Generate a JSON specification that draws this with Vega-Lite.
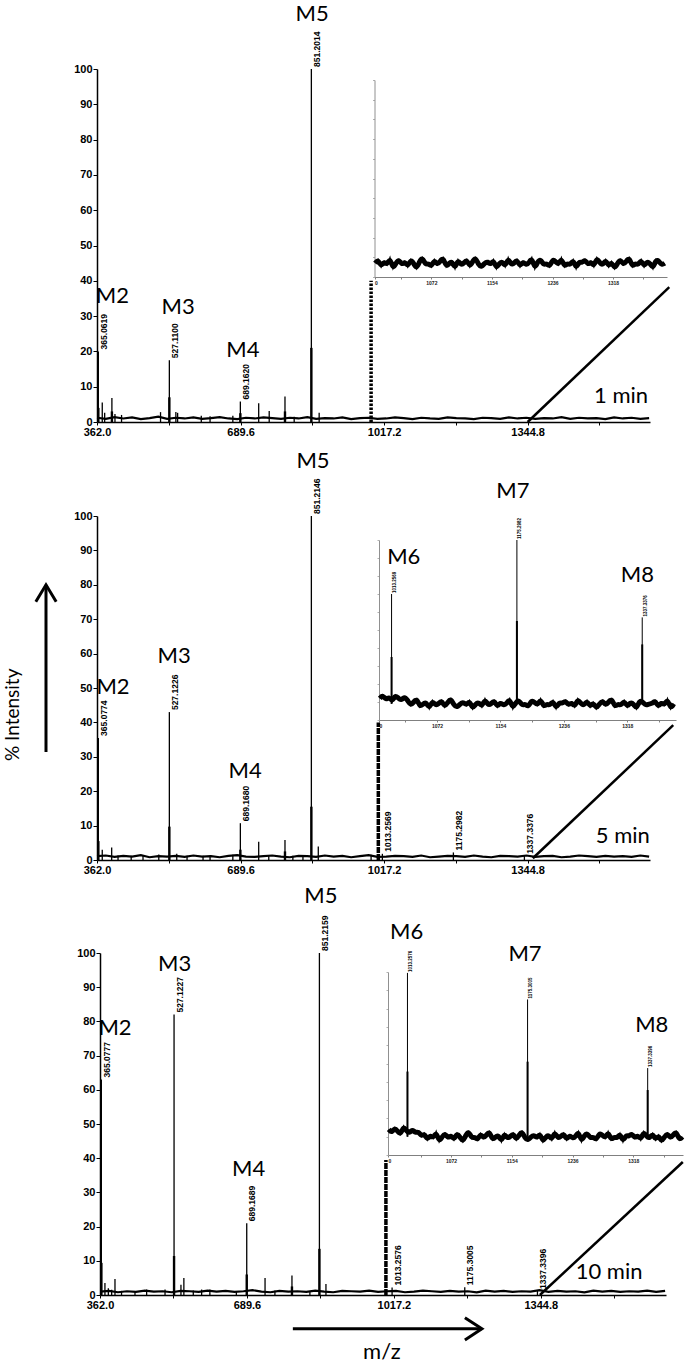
{
"$schema":"https://vega.github.io/schema/vega-lite/v6.json",
"width":693,"height":1364,"autosize":"none","padding":0,"background":"white",
"config":{"view":{"stroke":null},"axis":{"grid":false,"domainColor":"black","tickColor":"black","labelColor":"black","labelFont":"Liberation Sans","labelFontWeight":"bold","labelFontSize":11},"text":{"color":"black"}},
"datasets":{
"p1base":[{"x":362,"y":1.2},{"x":382,"y":0.9},{"x":402,"y":1.4},{"x":422,"y":1.0},{"x":442,"y":1.3},{"x":462,"y":0.8},{"x":482,"y":1.1},{"x":502,"y":1.5},{"x":522,"y":0.9},{"x":542,"y":1.2},{"x":562,"y":1.0},{"x":582,"y":1.3},{"x":602,"y":0.9},{"x":622,"y":1.1},{"x":642,"y":1.4},{"x":662,"y":1.0},{"x":682,"y":0.8},{"x":702,"y":1.2},{"x":722,"y":1.0},{"x":742,"y":1.3},{"x":762,"y":1.1},{"x":782,"y":0.9},{"x":802,"y":1.2},{"x":822,"y":1.0},{"x":842,"y":1.4},{"x":862,"y":0.9},{"x":882,"y":1.1},{"x":902,"y":1.0},{"x":922,"y":1.3},{"x":942,"y":0.8},{"x":962,"y":1.1},{"x":982,"y":1.2},{"x":1002,"y":0.9},{"x":1022,"y":1.0},{"x":1042,"y":1.3},{"x":1062,"y":1.1},{"x":1082,"y":0.8},{"x":1102,"y":1.2},{"x":1122,"y":1.0},{"x":1142,"y":0.9},{"x":1162,"y":1.3},{"x":1182,"y":1.1},{"x":1202,"y":1.0},{"x":1222,"y":0.8},{"x":1242,"y":1.2},{"x":1262,"y":1.1},{"x":1282,"y":0.9},{"x":1302,"y":1.3},{"x":1322,"y":1.0},{"x":1342,"y":1.2},{"x":1362,"y":0.9},{"x":1382,"y":1.1},{"x":1402,"y":1.0},{"x":1422,"y":1.4},{"x":1442,"y":0.9},{"x":1462,"y":1.2},{"x":1482,"y":1.0},{"x":1502,"y":1.1},{"x":1522,"y":0.8},{"x":1542,"y":1.3},{"x":1562,"y":1.0},{"x":1582,"y":1.2},{"x":1602,"y":0.9},{"x":1622,"y":1.1}],
"p2base":[{"x":362,"y":1.1},{"x":382,"y":1.3},{"x":402,"y":0.9},{"x":422,"y":1.2},{"x":442,"y":1.0},{"x":462,"y":1.4},{"x":482,"y":0.8},{"x":502,"y":1.1},{"x":522,"y":1.0},{"x":542,"y":1.2},{"x":562,"y":0.9},{"x":582,"y":1.3},{"x":602,"y":1.0},{"x":622,"y":1.1},{"x":642,"y":0.8},{"x":662,"y":1.2},{"x":682,"y":1.4},{"x":702,"y":1.0},{"x":722,"y":0.9},{"x":742,"y":1.1},{"x":762,"y":1.3},{"x":782,"y":1.0},{"x":802,"y":0.8},{"x":822,"y":1.2},{"x":842,"y":1.1},{"x":862,"y":0.9},{"x":882,"y":1.3},{"x":902,"y":1.0},{"x":922,"y":1.2},{"x":942,"y":0.8},{"x":962,"y":1.1},{"x":982,"y":1.4},{"x":1002,"y":0.9},{"x":1022,"y":1.0},{"x":1042,"y":1.2},{"x":1062,"y":1.1},{"x":1082,"y":0.9},{"x":1102,"y":1.3},{"x":1122,"y":0.8},{"x":1142,"y":1.0},{"x":1162,"y":1.2},{"x":1182,"y":1.1},{"x":1202,"y":0.9},{"x":1222,"y":1.3},{"x":1242,"y":1.0},{"x":1262,"y":0.8},{"x":1282,"y":1.2},{"x":1302,"y":1.1},{"x":1322,"y":1.0},{"x":1342,"y":1.3},{"x":1362,"y":0.9},{"x":1382,"y":1.1},{"x":1402,"y":1.2},{"x":1422,"y":0.8},{"x":1442,"y":1.0},{"x":1462,"y":1.3},{"x":1482,"y":1.1},{"x":1502,"y":0.9},{"x":1522,"y":1.2},{"x":1542,"y":1.0},{"x":1562,"y":1.1},{"x":1582,"y":0.9},{"x":1602,"y":1.3},{"x":1622,"y":1.0}],
"p3base":[{"x":362,"y":1.0},{"x":382,"y":1.2},{"x":402,"y":0.8},{"x":422,"y":1.1},{"x":442,"y":0.9},{"x":462,"y":1.3},{"x":482,"y":1.0},{"x":502,"y":1.1},{"x":522,"y":0.8},{"x":542,"y":1.2},{"x":562,"y":1.1},{"x":582,"y":0.9},{"x":602,"y":1.3},{"x":622,"y":1.0},{"x":642,"y":1.2},{"x":662,"y":0.9},{"x":682,"y":1.1},{"x":702,"y":1.4},{"x":722,"y":1.0},{"x":742,"y":0.8},{"x":762,"y":1.2},{"x":782,"y":1.0},{"x":802,"y":1.1},{"x":822,"y":0.9},{"x":842,"y":1.3},{"x":862,"y":1.0},{"x":882,"y":0.8},{"x":902,"y":1.2},{"x":922,"y":1.1},{"x":942,"y":1.0},{"x":962,"y":1.3},{"x":982,"y":0.9},{"x":1002,"y":1.1},{"x":1022,"y":1.2},{"x":1042,"y":0.8},{"x":1062,"y":1.0},{"x":1082,"y":1.3},{"x":1102,"y":1.1},{"x":1122,"y":0.9},{"x":1142,"y":1.2},{"x":1162,"y":1.0},{"x":1182,"y":1.1},{"x":1202,"y":0.8},{"x":1222,"y":1.3},{"x":1242,"y":1.0},{"x":1262,"y":1.2},{"x":1282,"y":0.9},{"x":1302,"y":1.1},{"x":1322,"y":1.0},{"x":1342,"y":1.4},{"x":1362,"y":0.9},{"x":1382,"y":1.2},{"x":1402,"y":1.0},{"x":1422,"y":1.1},{"x":1442,"y":0.8},{"x":1462,"y":1.3},{"x":1482,"y":1.0},{"x":1502,"y":1.2},{"x":1522,"y":0.9},{"x":1542,"y":1.1},{"x":1562,"y":1.0},{"x":1582,"y":1.3},{"x":1602,"y":0.9},{"x":1622,"y":1.2}],
"p1peaks":[{"x":365.06,"y":20,"c":4,"t":"365.0619"},{"x":374,"y":5.5},{"x":379.5,"y":2.6},{"x":396,"y":6.8,"c":3},{"x":403,"y":2.3},{"x":418,"y":2},{"x":507,"y":2.8},{"x":527.11,"y":17.5,"c":7,"t":"527.1100"},{"x":542,"y":2.8},{"x":546,"y":2.6},{"x":600,"y":1.8},{"x":620,"y":1.6},{"x":672,"y":1.8},{"x":689.16,"y":5.8,"c":2.5,"t":"689.1620"},{"x":731,"y":5.3},{"x":755,"y":3.1},{"x":791,"y":7.2,"c":3},{"x":812,"y":1.5},{"x":851.2,"y":100,"c":21,"t":"851.2014"},{"x":869,"y":2.6}],
"p2peaks":[{"x":365.08,"y":35.5,"c":5.5,"t":"365.0774"},{"x":374,"y":3},{"x":395.5,"y":3.6},{"x":410,"y":1.3},{"x":440,"y":1.2},{"x":467,"y":1.4},{"x":503,"y":1.6},{"x":527.12,"y":43,"c":9.7,"t":"527.1226"},{"x":544,"y":1.8},{"x":567.5,"y":1.2},{"x":604,"y":1.2},{"x":620,"y":1.2},{"x":672,"y":1.5},{"x":689.17,"y":10.7,"c":3,"t":"689.1680"},{"x":731,"y":5.3},{"x":754,"y":1.4},{"x":791,"y":5.8,"c":2.5},{"x":809,"y":1.2},{"x":832,"y":1.2},{"x":851.21,"y":100,"c":15.5,"t":"851.2146"},{"x":867,"y":3.9},{"x":987.5,"y":1.5},{"x":1013.26,"y":1.8,"t":"1013.2569"},{"x":1175.3,"y":2.2,"t":"1175.2982"},{"x":1337.34,"y":1.2,"t":"1337.3376"}],
"p3peaks":[{"x":365.08,"y":63,"c":9.4,"t":"365.0777"},{"x":373,"y":3.5},{"x":380.6,"y":2},{"x":388,"y":1.5},{"x":395.4,"y":4.7},{"x":410,"y":1.2},{"x":440,"y":1.2},{"x":466,"y":1.6},{"x":507,"y":1.6},{"x":527.12,"y":82,"c":11.4,"t":"527.1227"},{"x":542.5,"y":3},{"x":549,"y":5},{"x":570,"y":1.3},{"x":588.6,"y":1.6},{"x":607,"y":1.6},{"x":666,"y":1.2},{"x":689.17,"y":21,"c":6,"t":"689.1689"},{"x":730,"y":5},{"x":752,"y":1.3},{"x":790,"y":5.7,"c":2.5},{"x":830,"y":1.2},{"x":851.22,"y":100,"c":13.5,"t":"851.2159"},{"x":865.8,"y":3.2},{"x":1013.26,"y":2.2,"t":"1013.2576"},{"x":1175.3,"y":2.3,"t":"1175.3005"},{"x":1337.34,"y":1.2,"t":"1337.3396"}],
"p1m":[{"x":397,"y":35.7,"t":"M2"},{"x":547,"y":32.6,"t":"M3"},{"x":695,"y":20.5,"t":"M4"},{"x":853,"y":115.6,"t":"M5"},{"x":1558,"y":7.4,"t":"1 min"}],
"p2m":[{"x":398.5,"y":50.4,"t":"M2"},{"x":538,"y":59.2,"t":"M3"},{"x":700,"y":26,"t":"M4"},{"x":855,"y":116,"t":"M5"},{"x":1562,"y":7,"t":"5 min"}],
"p3m":[{"x":395.4,"y":78.1,"t":"M2"},{"x":528.5,"y":96.8,"t":"M3"},{"x":693.4,"y":36.8,"t":"M4"},{"x":854.6,"y":116.7,"t":"M5"},{"x":1497,"y":6.7,"t":"10 min"}],
"i2m":[{"x":1029,"y":90.3,"t":"M6"},{"x":1170,"y":127,"t":"M7"},{"x":1331,"y":80.3,"t":"M8"}],
"i3m":[{"x":1012.2,"y":121.6,"t":"M6"},{"x":1171.8,"y":109.8,"t":"M7"},{"x":1342.8,"y":71,"t":"M8"}],
"i2peaks":[{"x":1013.26,"y":70,"c":35,"t":"1013.2569"},{"x":1175.3,"y":100,"c":55,"t":"1175.2982"},{"x":1337.34,"y":57,"c":42,"t":"1337.3376"}],
"i3peaks":[{"x":1013.26,"y":99.5,"c":45.6,"t":"1013.2576"},{"x":1175.3,"y":85,"c":51,"t":"1175.3005"},{"x":1337.34,"y":47.5,"c":35.5,"t":"1337.3396"}],
"i1noise":[{"x":996,"y":7},{"x":1000,"y":9},{"x":1004,"y":5},{"x":1008,"y":8},{"x":1012,"y":6},{"x":1016,"y":10},{"x":1020,"y":4},{"x":1024,"y":7},{"x":1028,"y":9},{"x":1032,"y":6},{"x":1036,"y":8},{"x":1040,"y":5},{"x":1044,"y":9},{"x":1048,"y":7},{"x":1052,"y":4},{"x":1056,"y":8},{"x":1060,"y":10},{"x":1064,"y":6},{"x":1068,"y":7},{"x":1072,"y":5},{"x":1076,"y":9},{"x":1080,"y":6},{"x":1084,"y":8},{"x":1088,"y":10},{"x":1092,"y":5},{"x":1096,"y":7},{"x":1100,"y":8},{"x":1104,"y":4},{"x":1108,"y":9},{"x":1112,"y":6},{"x":1116,"y":7},{"x":1120,"y":9},{"x":1124,"y":5},{"x":1128,"y":8},{"x":1132,"y":10},{"x":1136,"y":6},{"x":1140,"y":5},{"x":1144,"y":7},{"x":1148,"y":8},{"x":1152,"y":6},{"x":1156,"y":9},{"x":1160,"y":4},{"x":1164,"y":7},{"x":1168,"y":8},{"x":1172,"y":5},{"x":1176,"y":10},{"x":1180,"y":6},{"x":1184,"y":7},{"x":1188,"y":9},{"x":1192,"y":5},{"x":1196,"y":8},{"x":1200,"y":6},{"x":1204,"y":7},{"x":1208,"y":10},{"x":1212,"y":4},{"x":1216,"y":8},{"x":1220,"y":9},{"x":1224,"y":6},{"x":1228,"y":7},{"x":1232,"y":5},{"x":1236,"y":9},{"x":1240,"y":8},{"x":1244,"y":6},{"x":1248,"y":10},{"x":1252,"y":5},{"x":1256,"y":7},{"x":1260,"y":6},{"x":1264,"y":9},{"x":1268,"y":4},{"x":1272,"y":8},{"x":1276,"y":7},{"x":1280,"y":9},{"x":1284,"y":6},{"x":1288,"y":8},{"x":1292,"y":5},{"x":1296,"y":10},{"x":1300,"y":7},{"x":1304,"y":6},{"x":1308,"y":9},{"x":1312,"y":5},{"x":1316,"y":8},{"x":1320,"y":4},{"x":1324,"y":7},{"x":1328,"y":9},{"x":1332,"y":6},{"x":1336,"y":8},{"x":1340,"y":10},{"x":1344,"y":5},{"x":1348,"y":7},{"x":1352,"y":6},{"x":1356,"y":9},{"x":1360,"y":5},{"x":1364,"y":8},{"x":1368,"y":7},{"x":1372,"y":4},{"x":1376,"y":9},{"x":1380,"y":8},{"x":1384,"y":6},{"x":1388,"y":7}],
"i2noise":[{"x":998,"y":12},{"x":1002,"y":14},{"x":1006,"y":11},{"x":1010,"y":13},{"x":1014,"y":10},{"x":1018,"y":14},{"x":1022,"y":12},{"x":1026,"y":11},{"x":1030,"y":13},{"x":1034,"y":11},{"x":1038,"y":8},{"x":1042,"y":10},{"x":1046,"y":12},{"x":1050,"y":7},{"x":1054,"y":9},{"x":1058,"y":10},{"x":1062,"y":6},{"x":1066,"y":11},{"x":1070,"y":8},{"x":1074,"y":9},{"x":1078,"y":11},{"x":1082,"y":7},{"x":1086,"y":10},{"x":1090,"y":12},{"x":1094,"y":8},{"x":1098,"y":7},{"x":1102,"y":9},{"x":1106,"y":10},{"x":1110,"y":8},{"x":1114,"y":11},{"x":1118,"y":6},{"x":1122,"y":9},{"x":1126,"y":10},{"x":1130,"y":7},{"x":1134,"y":12},{"x":1138,"y":8},{"x":1142,"y":9},{"x":1146,"y":11},{"x":1150,"y":7},{"x":1154,"y":10},{"x":1158,"y":8},{"x":1162,"y":9},{"x":1166,"y":12},{"x":1170,"y":6},{"x":1174,"y":10},{"x":1178,"y":11},{"x":1182,"y":8},{"x":1186,"y":9},{"x":1190,"y":7},{"x":1194,"y":11},{"x":1198,"y":10},{"x":1202,"y":8},{"x":1206,"y":12},{"x":1210,"y":7},{"x":1214,"y":9},{"x":1218,"y":8},{"x":1222,"y":11},{"x":1226,"y":6},{"x":1230,"y":10},{"x":1234,"y":9},{"x":1238,"y":11},{"x":1242,"y":8},{"x":1246,"y":10},{"x":1250,"y":7},{"x":1254,"y":12},{"x":1258,"y":9},{"x":1262,"y":8},{"x":1266,"y":11},{"x":1270,"y":7},{"x":1274,"y":10},{"x":1278,"y":6},{"x":1282,"y":9},{"x":1286,"y":11},{"x":1290,"y":8},{"x":1294,"y":10},{"x":1298,"y":12},{"x":1302,"y":7},{"x":1306,"y":9},{"x":1310,"y":8},{"x":1314,"y":11},{"x":1318,"y":7},{"x":1322,"y":10},{"x":1326,"y":9},{"x":1330,"y":6},{"x":1334,"y":11},{"x":1338,"y":10},{"x":1342,"y":8},{"x":1346,"y":9},{"x":1350,"y":9},{"x":1354,"y":11},{"x":1358,"y":7},{"x":1362,"y":10},{"x":1366,"y":8},{"x":1370,"y":12},{"x":1374,"y":6},{"x":1378,"y":9}],
"i3noise":[{"x":988,"y":14},{"x":992,"y":12},{"x":996,"y":15},{"x":1000,"y":13},{"x":1004,"y":11},{"x":1008,"y":16},{"x":1012,"y":13},{"x":1016,"y":12},{"x":1020,"y":14},{"x":1024,"y":12},{"x":1028,"y":13},{"x":1032,"y":10},{"x":1036,"y":12},{"x":1040,"y":8},{"x":1044,"y":11},{"x":1048,"y":9},{"x":1052,"y":13},{"x":1056,"y":7},{"x":1060,"y":10},{"x":1064,"y":12},{"x":1068,"y":9},{"x":1072,"y":11},{"x":1076,"y":8},{"x":1080,"y":12},{"x":1084,"y":10},{"x":1088,"y":7},{"x":1092,"y":11},{"x":1096,"y":13},{"x":1100,"y":9},{"x":1104,"y":10},{"x":1108,"y":8},{"x":1112,"y":12},{"x":1116,"y":9},{"x":1120,"y":11},{"x":1124,"y":13},{"x":1128,"y":8},{"x":1132,"y":10},{"x":1136,"y":11},{"x":1140,"y":7},{"x":1144,"y":12},{"x":1148,"y":9},{"x":1152,"y":10},{"x":1156,"y":12},{"x":1160,"y":8},{"x":1164,"y":11},{"x":1168,"y":13},{"x":1172,"y":9},{"x":1176,"y":8},{"x":1180,"y":10},{"x":1184,"y":11},{"x":1188,"y":9},{"x":1192,"y":12},{"x":1196,"y":7},{"x":1200,"y":10},{"x":1204,"y":11},{"x":1208,"y":8},{"x":1212,"y":13},{"x":1216,"y":9},{"x":1220,"y":10},{"x":1224,"y":12},{"x":1228,"y":8},{"x":1232,"y":11},{"x":1236,"y":9},{"x":1240,"y":10},{"x":1244,"y":13},{"x":1248,"y":7},{"x":1252,"y":11},{"x":1256,"y":12},{"x":1260,"y":9},{"x":1264,"y":10},{"x":1268,"y":8},{"x":1272,"y":12},{"x":1276,"y":11},{"x":1280,"y":9},{"x":1284,"y":13},{"x":1288,"y":8},{"x":1292,"y":10},{"x":1296,"y":9},{"x":1300,"y":12},{"x":1304,"y":7},{"x":1308,"y":11},{"x":1312,"y":10},{"x":1316,"y":12},{"x":1320,"y":9},{"x":1324,"y":11},{"x":1328,"y":8},{"x":1332,"y":13},{"x":1336,"y":10},{"x":1340,"y":9},{"x":1344,"y":12},{"x":1348,"y":8},{"x":1352,"y":11},{"x":1356,"y":7},{"x":1360,"y":10},{"x":1364,"y":12},{"x":1368,"y":9},{"x":1372,"y":11},{"x":1376,"y":13},{"x":1380,"y":8},{"x":1384,"y":10}]
},
"resolve":{"scale":{"x":"independent","y":"independent"}},
"layer":[
{"layer":[
 {"encoding":{
   "x":{"field":"x","type":"quantitative","scale":{"domain":[362,1624],"range":[97,650],"nice":false,"zero":false},"axis":{"orient":"bottom","offset":-942,"values":[362,525.8,689.6,853.4,1017.2,1181,1344.8,1508.6],"labelExpr":"indexof([362,689.6,1017.2,1344.8],datum.value)>=0?format(datum.value,'.1f'):''","labelOverlap":false,"labelFlush":false,"tickSize":3,"labelPadding":1,"domainWidth":1.5,"title":null}},
   "y":{"field":"y","type":"quantitative","scale":{"domain":[0,100],"range":[422,69],"nice":false,"zero":false},"axis":{"orient":"left","offset":-97,"values":[0,10,20,30,40,50,60,70,80,90,100],"tickSize":4,"labelPadding":1,"labelFlush":false,"labelOverlap":false,"domainWidth":1.5,"title":null}}},
  "layer":[
  {"data":{"name":"p1base"},"mark":{"type":"line","color":"black","strokeWidth":2.2}},
  {"data":{"name":"p1peaks"},"mark":{"type":"rule","color":"black","strokeWidth":1.3},"encoding":{"y2":{"datum":0}}},
  {"data":{"name":"p1peaks"},"transform":[{"filter":"isValid(datum.c)"}],"mark":{"type":"rule","color":"black","strokeWidth":2.4},
   "encoding":{"y":{"field":"c","type":"quantitative","scale":{"domain":[0,100],"range":[422,69],"nice":false,"zero":false},"axis":{"orient":"left","offset":-97,"values":[0,10,20,30,40,50,60,70,80,90,100],"tickSize":4,"labelPadding":1,"labelFlush":false,"labelOverlap":false,"domainWidth":1.5,"title":null}},"y2":{"datum":0}}},
  {"data":{"name":"p1peaks"},"transform":[{"filter":"isValid(datum.t)"}],"mark":{"type":"text","angle":270,"align":"left","baseline":"top","dx":2,"dy":1.5,"font":"Liberation Sans","fontWeight":"bold","fontSize":8.5},"encoding":{"text":{"field":"t"}}},
  {"data":{"name":"p1m"},"mark":{"type":"text","font":"Lato","fontSize":22},"encoding":{"text":{"field":"t"}}}
 ]},
 {"data":{"values":[{}]},"mark":{"type":"rule","color":"black","strokeWidth":3.5,"strokeDash":[2.5,1.5]},
  "encoding":{"x":{"datum":987.5,"type":"quantitative","scale":{"domain":[362,1624],"range":[97,650],"nice":false,"zero":false},"axis":{"orient":"bottom","offset":-942,"values":[362,525.8,689.6,853.4,1017.2,1181,1344.8,1508.6],"labelExpr":"indexof([362,689.6,1017.2,1344.8],datum.value)>=0?format(datum.value,'.1f'):''","labelOverlap":false,"labelFlush":false,"tickSize":3,"labelPadding":1,"domainWidth":1.5,"title":null}},
   "y":{"datum":0,"type":"quantitative","scale":{"domain":[0,100],"range":[422,69],"nice":false,"zero":false},"axis":{"orient":"left","offset":-97,"values":[0,10,20,30,40,50,60,70,80,90,100],"tickSize":4,"labelPadding":1,"labelFlush":false,"labelOverlap":false,"domainWidth":1.5,"title":null}},"y2":{"datum":40}}},
 {"data":{"values":[{}]},"mark":{"type":"rule","color":"black","strokeWidth":2.5},
  "encoding":{"x":{"datum":1344.8,"type":"quantitative","scale":{"domain":[362,1624],"range":[97,650],"nice":false,"zero":false},"axis":{"orient":"bottom","offset":-942,"values":[362,525.8,689.6,853.4,1017.2,1181,1344.8,1508.6],"labelExpr":"indexof([362,689.6,1017.2,1344.8],datum.value)>=0?format(datum.value,'.1f'):''","labelOverlap":false,"labelFlush":false,"tickSize":3,"labelPadding":1,"domainWidth":1.5,"title":null}},"x2":{"datum":1668},
   "y":{"datum":0,"type":"quantitative","scale":{"domain":[0,100],"range":[422,69],"nice":false,"zero":false},"axis":{"orient":"left","offset":-97,"values":[0,10,20,30,40,50,60,70,80,90,100],"tickSize":4,"labelPadding":1,"labelFlush":false,"labelOverlap":false,"domainWidth":1.5,"title":null}},"y2":{"datum":38.2}}}
]},
{"encoding":{
  "x":{"field":"x","type":"quantitative","scale":{"domain":[995,1391],"range":[374.5,667],"nice":false,"zero":false},"axis":{"orient":"bottom","offset":-1087,"values":[995,1031,1072,1113,1154,1195,1236,1277,1318,1359],"format":"d","labelExpr":"datum.value<1000?'0':(indexof([1072,1154,1236,1318],datum.value)>=0?datum.label:'')","labelFlush":true,"labelOverlap":false,"labelFontSize":5,"tickSize":2,"labelPadding":1,"domainColor":"#808080","tickColor":"#808080","labelColor":"#222222","title":null}},
  "y":{"field":"y","type":"quantitative","scale":{"domain":[0,100],"range":[277,80],"nice":false,"zero":false},"axis":{"orient":"left","offset":-374.5,"values":[0,10,20,30,40,50,60,70,80,90,100],"labels":false,"tickSize":2,"domainColor":"#909090","tickColor":"#b0b0b0","title":null}}},
 "layer":[
 {"data":{"name":"i1noise"},"mark":{"type":"line","color":"black","strokeWidth":5,"interpolate":"basis"}},
 {"data":{"name":"i1noise"},"mark":{"type":"line","color":"black","strokeWidth":1.2}}
]},
{"layer":[
 {"encoding":{
   "x":{"field":"x","type":"quantitative","scale":{"domain":[362,1624],"range":[97,650],"nice":false,"zero":false},"axis":{"orient":"bottom","offset":-504,"values":[362,525.8,689.6,853.4,1017.2,1181,1344.8,1508.6],"labelExpr":"indexof([362,689.6,1017.2,1344.8],datum.value)>=0?format(datum.value,'.1f'):''","labelOverlap":false,"labelFlush":false,"tickSize":3,"labelPadding":1,"domainWidth":1.5,"title":null}},
   "y":{"field":"y","type":"quantitative","scale":{"domain":[0,100],"range":[860,516],"nice":false,"zero":false},"axis":{"orient":"left","offset":-97,"values":[0,10,20,30,40,50,60,70,80,90,100],"tickSize":4,"labelPadding":1,"labelFlush":false,"labelOverlap":false,"domainWidth":1.5,"title":null}}},
  "layer":[
  {"data":{"name":"p2base"},"mark":{"type":"line","color":"black","strokeWidth":2.2}},
  {"data":{"name":"p2peaks"},"mark":{"type":"rule","color":"black","strokeWidth":1.3},"encoding":{"y2":{"datum":0}}},
  {"data":{"name":"p2peaks"},"transform":[{"filter":"isValid(datum.c)"}],"mark":{"type":"rule","color":"black","strokeWidth":2.4},
   "encoding":{"y":{"field":"c","type":"quantitative","scale":{"domain":[0,100],"range":[860,516],"nice":false,"zero":false},"axis":{"orient":"left","offset":-97,"values":[0,10,20,30,40,50,60,70,80,90,100],"tickSize":4,"labelPadding":1,"labelFlush":false,"labelOverlap":false,"domainWidth":1.5,"title":null}},"y2":{"datum":0}}},
  {"data":{"name":"p2peaks"},"transform":[{"filter":"isValid(datum.t)"}],"mark":{"type":"text","angle":270,"align":"left","baseline":"top","dx":2,"dy":1.5,"font":"Liberation Sans","fontWeight":"bold","fontSize":8.5},"encoding":{"text":{"field":"t"}}},
  {"data":{"name":"p2m"},"mark":{"type":"text","font":"Lato","fontSize":22},"encoding":{"text":{"field":"t"}}}
 ]},
 {"data":{"values":[{}]},"mark":{"type":"rule","color":"black","strokeWidth":3.5,"strokeDash":[6,1]},
  "encoding":{"x":{"datum":1004,"type":"quantitative","scale":{"domain":[362,1624],"range":[97,650],"nice":false,"zero":false},"axis":{"orient":"bottom","offset":-504,"values":[362,525.8,689.6,853.4,1017.2,1181,1344.8,1508.6],"labelExpr":"indexof([362,689.6,1017.2,1344.8],datum.value)>=0?format(datum.value,'.1f'):''","labelOverlap":false,"labelFlush":false,"tickSize":3,"labelPadding":1,"domainWidth":1.5,"title":null}},
   "y":{"datum":0,"type":"quantitative","scale":{"domain":[0,100],"range":[860,516],"nice":false,"zero":false},"axis":{"orient":"left","offset":-97,"values":[0,10,20,30,40,50,60,70,80,90,100],"tickSize":4,"labelPadding":1,"labelFlush":false,"labelOverlap":false,"domainWidth":1.5,"title":null}},"y2":{"datum":40}}},
 {"data":{"values":[{}]},"mark":{"type":"rule","color":"black","strokeWidth":2.5},
  "encoding":{"x":{"datum":1356.7,"type":"quantitative","scale":{"domain":[362,1624],"range":[97,650],"nice":false,"zero":false},"axis":{"orient":"bottom","offset":-504,"values":[362,525.8,689.6,853.4,1017.2,1181,1344.8,1508.6],"labelExpr":"indexof([362,689.6,1017.2,1344.8],datum.value)>=0?format(datum.value,'.1f'):''","labelOverlap":false,"labelFlush":false,"tickSize":3,"labelPadding":1,"domainWidth":1.5,"title":null}},"x2":{"datum":1677},
   "y":{"datum":0.5,"type":"quantitative","scale":{"domain":[0,100],"range":[860,516],"nice":false,"zero":false},"axis":{"orient":"left","offset":-97,"values":[0,10,20,30,40,50,60,70,80,90,100],"tickSize":4,"labelPadding":1,"labelFlush":false,"labelOverlap":false,"domainWidth":1.5,"title":null}},"y2":{"datum":39.2}}},
 {"data":{"values":[{}]},"mark":{"type":"text","font":"Lato","fontSize":19,"angle":270},
  "encoding":{"x":{"datum":170,"type":"quantitative","scale":{"domain":[362,1624],"range":[97,650],"nice":false,"zero":false},"axis":{"orient":"bottom","offset":-504,"values":[362,525.8,689.6,853.4,1017.2,1181,1344.8,1508.6],"labelExpr":"indexof([362,689.6,1017.2,1344.8],datum.value)>=0?format(datum.value,'.1f'):''","labelOverlap":false,"labelFlush":false,"tickSize":3,"labelPadding":1,"domainWidth":1.5,"title":null}},
   "y":{"datum":42.2,"type":"quantitative","scale":{"domain":[0,100],"range":[860,516],"nice":false,"zero":false},"axis":{"orient":"left","offset":-97,"values":[0,10,20,30,40,50,60,70,80,90,100],"tickSize":4,"labelPadding":1,"labelFlush":false,"labelOverlap":false,"domainWidth":1.5,"title":null}},"text":{"value":"% Intensity"}}},
 {"data":{"values":[{}]},"mark":{"type":"rule","color":"black","strokeWidth":3},
  "encoding":{"x":{"datum":245.6,"type":"quantitative","scale":{"domain":[362,1624],"range":[97,650],"nice":false,"zero":false},"axis":{"orient":"bottom","offset":-504,"values":[362,525.8,689.6,853.4,1017.2,1181,1344.8,1508.6],"labelExpr":"indexof([362,689.6,1017.2,1344.8],datum.value)>=0?format(datum.value,'.1f'):''","labelOverlap":false,"labelFlush":false,"tickSize":3,"labelPadding":1,"domainWidth":1.5,"title":null}},
   "y":{"datum":31.4,"type":"quantitative","scale":{"domain":[0,100],"range":[860,516],"nice":false,"zero":false},"axis":{"orient":"left","offset":-97,"values":[0,10,20,30,40,50,60,70,80,90,100],"tickSize":4,"labelPadding":1,"labelFlush":false,"labelOverlap":false,"domainWidth":1.5,"title":null}},"y2":{"datum":80}}},
 {"data":{"values":[{}]},"mark":{"type":"point","shape":"M -0.6 1 L 0 0 L 0.6 1","size":1156,"filled":false,"stroke":"black","strokeWidth":3,"opacity":1,"strokeJoin":"miter"},
  "encoding":{"x":{"datum":245.6,"type":"quantitative","scale":{"domain":[362,1624],"range":[97,650],"nice":false,"zero":false},"axis":{"orient":"bottom","offset":-504,"values":[362,525.8,689.6,853.4,1017.2,1181,1344.8,1508.6],"labelExpr":"indexof([362,689.6,1017.2,1344.8],datum.value)>=0?format(datum.value,'.1f'):''","labelOverlap":false,"labelFlush":false,"tickSize":3,"labelPadding":1,"domainWidth":1.5,"title":null}},
   "y":{"datum":80,"type":"quantitative","scale":{"domain":[0,100],"range":[860,516],"nice":false,"zero":false},"axis":{"orient":"left","offset":-97,"values":[0,10,20,30,40,50,60,70,80,90,100],"tickSize":4,"labelPadding":1,"labelFlush":false,"labelOverlap":false,"domainWidth":1.5,"title":null}}}}
]},
{"encoding":{
  "x":{"field":"x","type":"quantitative","scale":{"domain":[997,1381],"range":[379,676],"nice":false,"zero":false},"axis":{"orient":"bottom","offset":-644,"values":[997,1031,1072,1113,1154,1195,1236,1277,1318,1359],"format":"d","labelExpr":"datum.value<1000?'0':(indexof([1072,1154,1236,1318],datum.value)>=0?datum.label:'')","labelFlush":true,"labelOverlap":false,"labelFontSize":5,"tickSize":2,"labelPadding":1,"domainColor":"#808080","tickColor":"#808080","labelColor":"#222222","title":null}},
  "y":{"field":"y","type":"quantitative","scale":{"domain":[0,100],"range":[720,540],"nice":false,"zero":false},"axis":{"orient":"left","offset":-379,"values":[0,10,20,30,40,50,60,70,80,90,100],"labels":false,"tickSize":2,"domainColor":"#909090","tickColor":"#b0b0b0","title":null}}},
 "layer":[
 {"data":{"name":"i2noise"},"mark":{"type":"line","color":"black","strokeWidth":5,"interpolate":"basis"}},
 {"data":{"name":"i2noise"},"mark":{"type":"line","color":"black","strokeWidth":1.2}},
 {"data":{"name":"i2peaks"},"mark":{"type":"rule","color":"black","strokeWidth":1},"encoding":{"y2":{"datum":9}}},
 {"data":{"name":"i2peaks"},"mark":{"type":"rule","color":"black","strokeWidth":2},
  "encoding":{"y":{"field":"c","type":"quantitative","scale":{"domain":[0,100],"range":[720,540],"nice":false,"zero":false},"axis":{"orient":"left","offset":-379,"values":[0,10,20,30,40,50,60,70,80,90,100],"labels":false,"tickSize":2,"domainColor":"#909090","tickColor":"#b0b0b0","title":null}},"y2":{"datum":9}}},
 {"data":{"name":"i2peaks"},"mark":{"type":"text","angle":270,"align":"left","baseline":"top","dx":1,"dy":0.5,"font":"Liberation Sans","fontWeight":"bold","fontSize":4.5},"encoding":{"text":{"field":"t"}}},
 {"data":{"name":"i2m"},"mark":{"type":"text","font":"Lato","fontSize":22},"encoding":{"text":{"field":"t"}}}
]},
{"layer":[
 {"encoding":{
   "x":{"field":"x","type":"quantitative","scale":{"domain":[362,1624],"range":[100,666],"nice":false,"zero":false},"axis":{"orient":"bottom","offset":-69,"values":[362,525.8,689.6,853.4,1017.2,1181,1344.8,1508.6],"labelExpr":"indexof([362,689.6,1017.2,1344.8],datum.value)>=0?format(datum.value,'.1f'):''","labelOverlap":false,"labelFlush":false,"tickSize":3,"labelPadding":1,"domainWidth":1.5,"title":null}},
   "y":{"field":"y","type":"quantitative","scale":{"domain":[0,100],"range":[1295,953],"nice":false,"zero":false},"axis":{"orient":"left","offset":-100,"values":[0,10,20,30,40,50,60,70,80,90,100],"tickSize":4,"labelPadding":1,"labelFlush":false,"labelOverlap":false,"domainWidth":1.5,"title":null}}},
  "layer":[
  {"data":{"name":"p3base"},"mark":{"type":"line","color":"black","strokeWidth":2.2}},
  {"data":{"name":"p3peaks"},"mark":{"type":"rule","color":"black","strokeWidth":1.3},"encoding":{"y2":{"datum":0}}},
  {"data":{"name":"p3peaks"},"transform":[{"filter":"isValid(datum.c)"}],"mark":{"type":"rule","color":"black","strokeWidth":2.4},
   "encoding":{"y":{"field":"c","type":"quantitative","scale":{"domain":[0,100],"range":[1295,953],"nice":false,"zero":false},"axis":{"orient":"left","offset":-100,"values":[0,10,20,30,40,50,60,70,80,90,100],"tickSize":4,"labelPadding":1,"labelFlush":false,"labelOverlap":false,"domainWidth":1.5,"title":null}},"y2":{"datum":0}}},
  {"data":{"name":"p3peaks"},"transform":[{"filter":"isValid(datum.t)"}],"mark":{"type":"text","angle":270,"align":"left","baseline":"top","dx":2,"dy":1.5,"font":"Liberation Sans","fontWeight":"bold","fontSize":8.5},"encoding":{"text":{"field":"t"}}},
  {"data":{"name":"p3m"},"mark":{"type":"text","font":"Lato","fontSize":22},"encoding":{"text":{"field":"t"}}}
 ]},
 {"data":{"values":[{}]},"mark":{"type":"rule","color":"black","strokeWidth":3.5,"strokeDash":[6,1]},
  "encoding":{"x":{"datum":999.5,"type":"quantitative","scale":{"domain":[362,1624],"range":[100,666],"nice":false,"zero":false},"axis":{"orient":"bottom","offset":-69,"values":[362,525.8,689.6,853.4,1017.2,1181,1344.8,1508.6],"labelExpr":"indexof([362,689.6,1017.2,1344.8],datum.value)>=0?format(datum.value,'.1f'):''","labelOverlap":false,"labelFlush":false,"tickSize":3,"labelPadding":1,"domainWidth":1.5,"title":null}},
   "y":{"datum":0,"type":"quantitative","scale":{"domain":[0,100],"range":[1295,953],"nice":false,"zero":false},"axis":{"orient":"left","offset":-100,"values":[0,10,20,30,40,50,60,70,80,90,100],"tickSize":4,"labelPadding":1,"labelFlush":false,"labelOverlap":false,"domainWidth":1.5,"title":null}},"y2":{"datum":39.5}}},
 {"data":{"values":[{}]},"mark":{"type":"rule","color":"black","strokeWidth":2.5},
  "encoding":{"x":{"datum":1342.8,"type":"quantitative","scale":{"domain":[362,1624],"range":[100,666],"nice":false,"zero":false},"axis":{"orient":"bottom","offset":-69,"values":[362,525.8,689.6,853.4,1017.2,1181,1344.8,1508.6],"labelExpr":"indexof([362,689.6,1017.2,1344.8],datum.value)>=0?format(datum.value,'.1f'):''","labelOverlap":false,"labelFlush":false,"tickSize":3,"labelPadding":1,"domainWidth":1.5,"title":null}},"x2":{"datum":1661.5},
   "y":{"datum":0,"type":"quantitative","scale":{"domain":[0,100],"range":[1295,953],"nice":false,"zero":false},"axis":{"orient":"left","offset":-100,"values":[0,10,20,30,40,50,60,70,80,90,100],"tickSize":4,"labelPadding":1,"labelFlush":false,"labelOverlap":false,"domainWidth":1.5,"title":null}},"y2":{"datum":38.9}}},
 {"data":{"values":[{}]},"mark":{"type":"text","font":"Lato","fontSize":22},
  "encoding":{"x":{"datum":990.6,"type":"quantitative","scale":{"domain":[362,1624],"range":[100,666],"nice":false,"zero":false},"axis":{"orient":"bottom","offset":-69,"values":[362,525.8,689.6,853.4,1017.2,1181,1344.8,1508.6],"labelExpr":"indexof([362,689.6,1017.2,1344.8],datum.value)>=0?format(datum.value,'.1f'):''","labelOverlap":false,"labelFlush":false,"tickSize":3,"labelPadding":1,"domainWidth":1.5,"title":null}},
   "y":{"datum":-16.7,"type":"quantitative","scale":{"domain":[0,100],"range":[1295,953],"nice":false,"zero":false},"axis":{"orient":"left","offset":-100,"values":[0,10,20,30,40,50,60,70,80,90,100],"tickSize":4,"labelPadding":1,"labelFlush":false,"labelOverlap":false,"domainWidth":1.5,"title":null}},"text":{"value":"m/z"}}},
 {"data":{"values":[{}]},"mark":{"type":"rule","color":"black","strokeWidth":3},
  "encoding":{"x":{"datum":792,"type":"quantitative","scale":{"domain":[362,1624],"range":[100,666],"nice":false,"zero":false},"axis":{"orient":"bottom","offset":-69,"values":[362,525.8,689.6,853.4,1017.2,1181,1344.8,1508.6],"labelExpr":"indexof([362,689.6,1017.2,1344.8],datum.value)>=0?format(datum.value,'.1f'):''","labelOverlap":false,"labelFlush":false,"tickSize":3,"labelPadding":1,"domainWidth":1.5,"title":null}},"x2":{"datum":1213.5},
   "y":{"datum":-9.9,"type":"quantitative","scale":{"domain":[0,100],"range":[1295,953],"nice":false,"zero":false},"axis":{"orient":"left","offset":-100,"values":[0,10,20,30,40,50,60,70,80,90,100],"tickSize":4,"labelPadding":1,"labelFlush":false,"labelOverlap":false,"domainWidth":1.5,"title":null}}}},
 {"data":{"values":[{}]},"mark":{"type":"point","shape":"M -1 -0.65 L 0 0 L -1 0.65","size":1156,"filled":false,"stroke":"black","strokeWidth":3,"opacity":1,"strokeJoin":"miter"},
  "encoding":{"x":{"datum":1213.5,"type":"quantitative","scale":{"domain":[362,1624],"range":[100,666],"nice":false,"zero":false},"axis":{"orient":"bottom","offset":-69,"values":[362,525.8,689.6,853.4,1017.2,1181,1344.8,1508.6],"labelExpr":"indexof([362,689.6,1017.2,1344.8],datum.value)>=0?format(datum.value,'.1f'):''","labelOverlap":false,"labelFlush":false,"tickSize":3,"labelPadding":1,"domainWidth":1.5,"title":null}},
   "y":{"datum":-9.9,"type":"quantitative","scale":{"domain":[0,100],"range":[1295,953],"nice":false,"zero":false},"axis":{"orient":"left","offset":-100,"values":[0,10,20,30,40,50,60,70,80,90,100],"tickSize":4,"labelPadding":1,"labelFlush":false,"labelOverlap":false,"domainWidth":1.5,"title":null}}}}
]},
{"encoding":{
  "x":{"field":"x","type":"quantitative","scale":{"domain":[987,1385],"range":[388,683],"nice":false,"zero":false},"axis":{"orient":"bottom","offset":-209,"values":[987,1031,1072,1113,1154,1195,1236,1277,1318,1359],"format":"d","labelExpr":"datum.value<1000?'0':(indexof([1072,1154,1236,1318],datum.value)>=0?datum.label:'')","labelFlush":true,"labelOverlap":false,"labelFontSize":5,"tickSize":2,"labelPadding":1,"domainColor":"#808080","tickColor":"#808080","labelColor":"#222222","title":null}},
  "y":{"field":"y","type":"quantitative","scale":{"domain":[0,100],"range":[1155,972],"nice":false,"zero":false},"axis":{"orient":"left","offset":-388,"values":[0,10,20,30,40,50,60,70,80,90,100],"labels":false,"tickSize":2,"domainColor":"#909090","tickColor":"#b0b0b0","title":null}}},
 "layer":[
 {"data":{"name":"i3noise"},"mark":{"type":"line","color":"black","strokeWidth":5,"interpolate":"basis"}},
 {"data":{"name":"i3noise"},"mark":{"type":"line","color":"black","strokeWidth":1.2}},
 {"data":{"name":"i3peaks"},"mark":{"type":"rule","color":"black","strokeWidth":1},"encoding":{"y2":{"datum":10}}},
 {"data":{"name":"i3peaks"},"mark":{"type":"rule","color":"black","strokeWidth":2},
  "encoding":{"y":{"field":"c","type":"quantitative","scale":{"domain":[0,100],"range":[1155,972],"nice":false,"zero":false},"axis":{"orient":"left","offset":-388,"values":[0,10,20,30,40,50,60,70,80,90,100],"labels":false,"tickSize":2,"domainColor":"#909090","tickColor":"#b0b0b0","title":null}},"y2":{"datum":10}}},
 {"data":{"name":"i3peaks"},"mark":{"type":"text","angle":270,"align":"left","baseline":"top","dx":1,"dy":0.5,"font":"Liberation Sans","fontWeight":"bold","fontSize":4.5},"encoding":{"text":{"field":"t"}}},
 {"data":{"name":"i3m"},"mark":{"type":"text","font":"Lato","fontSize":22},"encoding":{"text":{"field":"t"}}}
]}
]
}
